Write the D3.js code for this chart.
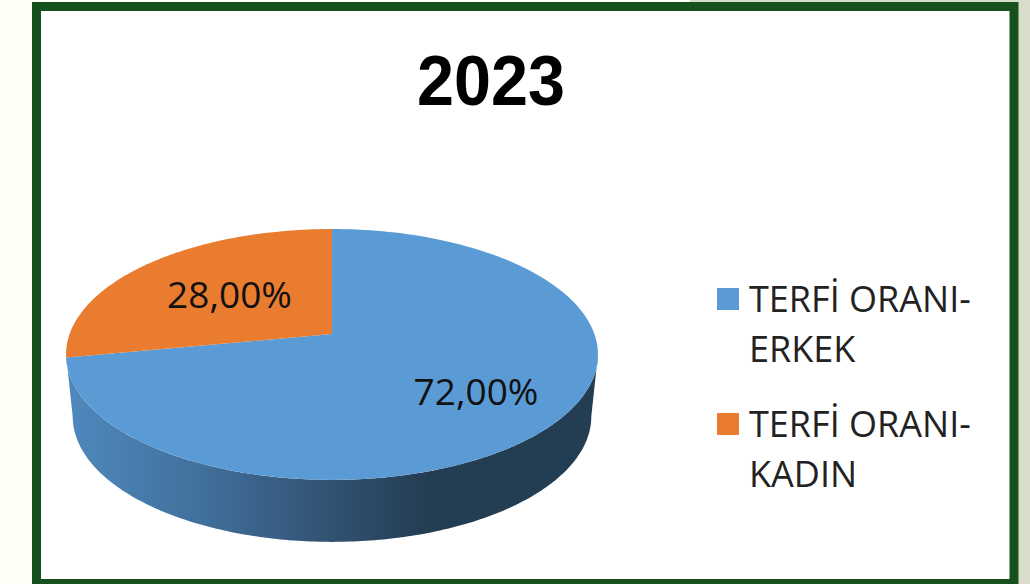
<!DOCTYPE html>
<html><head><meta charset="utf-8">
<script src="https://cdn.jsdelivr.net/npm/d3@7/dist/d3.min.js"></script>
<style>html,body{margin:0;padding:0;background:#fdfff6;overflow:hidden}svg{display:block}</style>
</head><body><svg id="c" width="1030" height="584"></svg>
<script>
const title = "2023";
const categories = ["TERFİ ORANI-ERKEK", "TERFİ ORANI-KADIN"];
const legendLines = [["TERFİ ORANI-", "ERKEK"], ["TERFİ ORANI-", "KADIN"]];
const values = [72, 28];
const valueLabels = ["72,00%", "28,00%"];
const colors = ["#5b9bd5", "#ea7c30"];

const svg = d3.select("#c");
const font = "'Open Sans','Noto Sans',sans-serif";

// page and frame
svg.append("rect").attr("x",1018).attr("y",0).attr("width",12).attr("height",584).attr("fill","#d8decb");
svg.append("rect").attr("x",690).attr("y",0).attr("width",340).attr("height",3).attr("fill","#d8decb");
svg.append("rect").attr("x",36.5).attr("y",6.5).attr("width",977.5).attr("height",577)
  .attr("fill","#fff").attr("stroke","#16501c").attr("stroke-width",9);

// perspective projection of the unit disc onto the screen
const cx = 332, apexY = 334, b = -0.163, A = 122.1, C = 262.4, depth = 62;
const project = (u, v) => [cx + C*u/(1+b*v), apexY + A*v/(1+b*v)];

const pie = d3.pie().sort(null).startAngle(0).endAngle(2*Math.PI);
const arcs = pie(values);
const line = d3.line();
const onDisc = a => project(Math.sin(a), -Math.cos(a));
const sector = d => {
  const n = 160, pts = [project(0,0)];
  for (let i=0;i<=n;i++) pts.push(onDisc(d.startAngle+(d.endAngle-d.startAngle)*i/n));
  return line(pts)+"Z";
};

// side wall: from the widest point of the rim on the right, round the front, to the left
const defs = svg.append("defs");
const grad = defs.append("linearGradient").attr("id","wall").attr("gradientUnits","userSpaceOnUse")
  .attr("x1",66).attr("x2",598).attr("y1",0).attr("y2",0);
[[0,"#4f89be"],[0.25,"#41709c"],[0.515,"#30506f"],[0.68,"#233d52"],[1,"#233d52"]].forEach(s=>
  grad.append("stop").attr("offset",s[0]).attr("stop-color",s[1]));
const wallPts = [];
const m = 200, shrink = 0.975, a0 = Math.acos(b), a1 = 2*Math.PI - a0;
for (let i=0;i<=m;i++) wallPts.push(onDisc(a0+(a1-a0)*i/m));
const lower = wallPts.slice().reverse().map(p=>[cx+(p[0]-cx)*shrink,p[1]+depth]);
svg.append("path").attr("d",line(wallPts.concat(lower))+"Z").attr("fill","url(#wall)");

// slices
svg.selectAll("path.slice").data(arcs).join("path").attr("class","slice")
  .attr("d",sector).attr("fill",(d,i)=>colors[i]);

// text
svg.append("text").attr("x",491).attr("y",105).attr("text-anchor","middle")
  .attr("font-family","'Liberation Sans',sans-serif").attr("font-weight",700).attr("font-size",70)
  .attr("textLength",148).attr("lengthAdjust","spacingAndGlyphs").attr("fill","#000").text(title);
const labelPos = [[476,405],[229.5,308]];
svg.selectAll("text.val").data(valueLabels).join("text").attr("class","val")
  .attr("x",(d,i)=>labelPos[i][0]).attr("y",(d,i)=>labelPos[i][1]).attr("text-anchor","middle")
  .attr("font-family",font).attr("font-size",37).attr("fill","#111").text(d=>d);

// legend
const legendY = [[312,362],[437,487]];
categories.forEach((c,i)=>{
  svg.append("rect").attr("x",717).attr("y",legendY[i][0]-24).attr("width",22).attr("height",22).attr("fill",colors[i]);
  legendLines[i].forEach((t,j)=>svg.append("text").attr("x",749).attr("y",legendY[i][j])
    .attr("font-family",font).attr("font-size",36).attr("fill","#222").text(t));
});
</script></body></html>
